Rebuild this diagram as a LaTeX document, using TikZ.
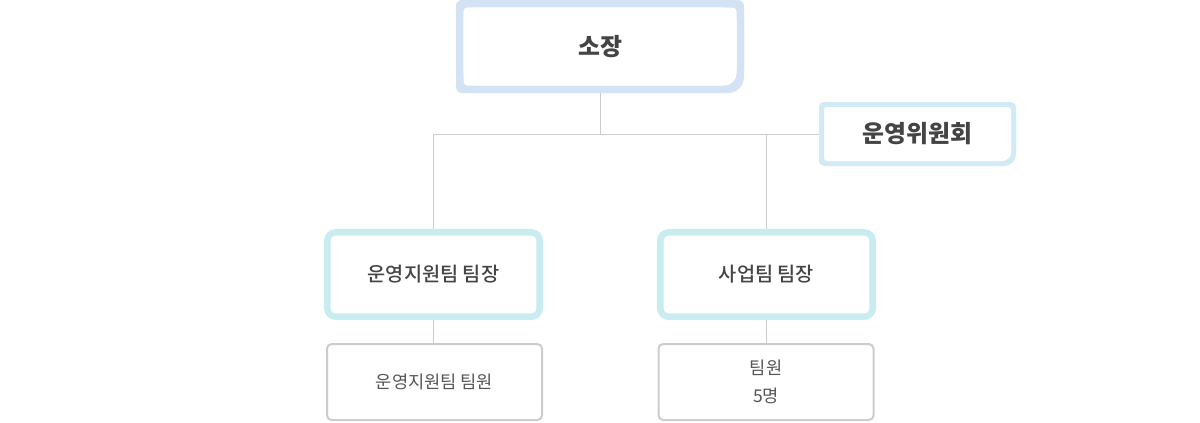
\documentclass[tikz,border=0pt]{standalone}
\usepackage{fontspec}
\setmainfont{Noto Sans CJK KR}
\newfontfamily\krmed{Noto Sans CJK KR Medium}
\usetikzlibrary{calc,backgrounds}
\definecolor{topblue}{HTML}{D3E3F3}
\definecolor{cmtblue}{HTML}{D2EAF5}
\definecolor{teamcyan}{HTML}{C9ECF0}
\definecolor{linegray}{HTML}{CCCCCC}
\definecolor{txtdark}{HTML}{444444}
\definecolor{txtmid}{HTML}{555555}
% frame with one larger (bottom right) corner
\newcommand\oddframe[9]{%
  \fill[#2, rounded corners=#4] (#1.north west) rectangle ($(#1.south east)+(-#6,0)$);
  \fill[#2, rounded corners=#4] (#1.north west) rectangle ($(#1.south east)+(0,-#6)$);
  \fill[#2, rounded corners=#5] (#1.north west) rectangle (#1.south east);
  \fill[white, rounded corners=#7] ($(#1.north west)+(#3,#3)$) rectangle ($(#1.south east)+(-#3-#9,-#3)$);
  \fill[white, rounded corners=#7] ($(#1.north west)+(#3,#3)$) rectangle ($(#1.south east)+(-#3,-#3-#9)$);
  \fill[white, rounded corners=#8] ($(#1.north west)+(#3,#3)$) rectangle ($(#1.south east)+(-#3,-#3)$);
}
\begin{document}
\begin{tikzpicture}[x=0.75pt,y=-0.75pt,
  plainnode/.style={inner sep=0pt, outer sep=0pt, align=center},
  headtext/.style={font=\bfseries\fontsize{17.9pt}{21pt}\selectfont, text=txtdark},
  teambox/.style={plainnode, draw=teamcyan, line width=4.9pt, rounded corners=6.5pt,
     minimum width=212.5*0.75pt, minimum height=84.5*0.75pt,
     font=\krmed\fontsize{14.8pt}{18pt}\selectfont, text=txtdark},
  memberbox/.style={plainnode, draw=linegray, line width=1.5pt, rounded corners=3.5pt,
     minimum width=215*0.75pt, minimum height=76*0.75pt,
     font=\fontsize{13.2pt}{21pt}\selectfont, text=txtmid},
  conn/.style={draw=linegray, line width=0.75pt}]
\useasboundingbox (0,0) rectangle (1200,422);

\node[plainnode, headtext, minimum width=288*0.75pt, minimum height=93*0.75pt] (jang) at (600,46.5) {소장};
\node[plainnode, headtext, minimum width=197*0.75pt, minimum height=64*0.75pt] (cmt) at (917.5,134) {운영위원회};
\node[teambox] (t1) at (433.5,274.5) {운영지원팀 팀장};
\node[teambox] (t2) at (766.5,274.5) {사업팀 팀장};
\node[memberbox] (m1) at (434.5,382) {운영지원팀 팀원};
\node[memberbox] (m2) at (766,382) {팀원\\5명};

\begin{scope}[on background layer]
  \oddframe{jang}{topblue}{7.5}{4.5pt}{12pt}{16}{3pt}{9pt}{12}
  \oddframe{cmt}{cmtblue}{5}{3.75pt}{9pt}{12}{2.25pt}{6.75pt}{9}
  \draw[conn] (jang.south) -- (jang.south |- cmt.west) coordinate (hub);
  \draw[conn] (t1.north |- hub) -- (cmt.west);
  \draw[conn] (t1.north |- hub) -- (t1.north);
  \draw[conn] (t2.north |- hub) -- (t2.north);
  \draw[conn] (t1.south) -- (t1.south |- m1.north);
  \draw[conn] (t2.south) -- (t2.south |- m2.north);
\end{scope}
\end{tikzpicture}
\end{document}
